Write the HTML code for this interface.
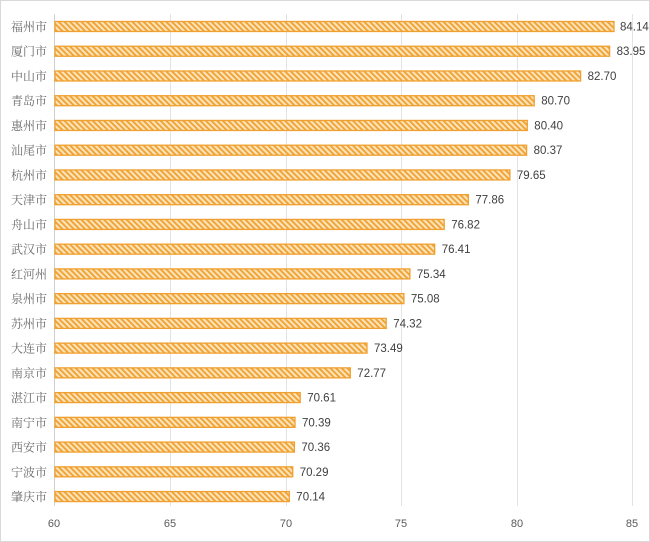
<!DOCTYPE html>
<html><head><meta charset="utf-8"><style>
html,body{margin:0;padding:0;background:#fff;}
svg{display:block;}
text{font-family:"Liberation Sans","Noto Sans CJK SC",sans-serif;}
.c{font-size:12px;fill:#6a6a6a;text-anchor:end;font-family:"Liberation Serif","Noto Serif CJK SC",serif;}
.v{font-size:11.5px;fill:#404040;}
.b{fill:url(#h);stroke:#f0a030;stroke-width:1.3;}
</style></head><body>
<svg width="650" height="542" viewBox="0 0 650 542" xmlns="http://www.w3.org/2000/svg">
<defs>
<pattern id="h" patternUnits="userSpaceOnUse" width="4" height="4" patternTransform="rotate(-45)">
<rect width="4" height="4" fill="#fbe3b8"/>
<rect width="1.8" height="4" fill="#f0a030"/>
</pattern>
</defs>
<rect x="0.5" y="0.5" width="649" height="541" fill="#fff" stroke="#d9d9d9"/>
<g stroke="#e3e3e3" stroke-width="1">
<line x1="170.5" y1="14" x2="170.5" y2="506"/>
<line x1="286.5" y1="14" x2="286.5" y2="506"/>
<line x1="401.5" y1="14" x2="401.5" y2="506"/>
<line x1="517.5" y1="14" x2="517.5" y2="506"/>
<line x1="632.5" y1="14" x2="632.5" y2="506"/>
</g>
<line x1="54.5" y1="14" x2="54.5" y2="506" stroke="#d0d0d0"/>
<g font-size="11" fill="#595959" text-anchor="middle">
<text x="54" y="527">60</text><text x="170" y="527">65</text><text x="286" y="527">70</text><text x="401" y="527">75</text><text x="517" y="527">80</text><text x="632" y="527">85</text>
</g>
<g transform="translate(0,26.5)"><rect class="b" x="55" y="-5" width="559" height="10"/><text class="c" x="47" y="4.5">福州市</text><text class="v" x="620" y="4">84.14</text></g>
<g transform="translate(0,51.24)"><rect class="b" x="55" y="-5" width="554.6" height="10"/><text class="c" x="47" y="4.5">厦门市</text><text class="v" x="616.6" y="4">83.95</text></g>
<g transform="translate(0,75.98)"><rect class="b" x="55" y="-5" width="525.6" height="10"/><text class="c" x="47" y="4.5">中山市</text><text class="v" x="587.6" y="4">82.70</text></g>
<g transform="translate(0,100.72)"><rect class="b" x="55" y="-5" width="479.2" height="10"/><text class="c" x="47" y="4.5">青岛市</text><text class="v" x="541.2" y="4">80.70</text></g>
<g transform="translate(0,125.46)"><rect class="b" x="55" y="-5" width="472.3" height="10"/><text class="c" x="47" y="4.5">惠州市</text><text class="v" x="534.3" y="4">80.40</text></g>
<g transform="translate(0,150.2)"><rect class="b" x="55" y="-5" width="471.6" height="10"/><text class="c" x="47" y="4.5">汕尾市</text><text class="v" x="533.6" y="4">80.37</text></g>
<g transform="translate(0,174.94)"><rect class="b" x="55" y="-5" width="454.9" height="10"/><text class="c" x="47" y="4.5">杭州市</text><text class="v" x="516.9" y="4">79.65</text></g>
<g transform="translate(0,199.68)"><rect class="b" x="55" y="-5" width="413.4" height="10"/><text class="c" x="47" y="4.5">天津市</text><text class="v" x="475.4" y="4">77.86</text></g>
<g transform="translate(0,224.42)"><rect class="b" x="55" y="-5" width="389.2" height="10"/><text class="c" x="47" y="4.5">舟山市</text><text class="v" x="451.2" y="4">76.82</text></g>
<g transform="translate(0,249.16)"><rect class="b" x="55" y="-5" width="379.7" height="10"/><text class="c" x="47" y="4.5">武汉市</text><text class="v" x="441.7" y="4">76.41</text></g>
<g transform="translate(0,273.9)"><rect class="b" x="55" y="-5" width="354.9" height="10"/><text class="c" x="47" y="4.5">红河州</text><text class="v" x="416.9" y="4">75.34</text></g>
<g transform="translate(0,298.64)"><rect class="b" x="55" y="-5" width="348.9" height="10"/><text class="c" x="47" y="4.5">泉州市</text><text class="v" x="410.9" y="4">75.08</text></g>
<g transform="translate(0,323.38)"><rect class="b" x="55" y="-5" width="331.2" height="10"/><text class="c" x="47" y="4.5">苏州市</text><text class="v" x="393.2" y="4">74.32</text></g>
<g transform="translate(0,348.12)"><rect class="b" x="55" y="-5" width="312" height="10"/><text class="c" x="47" y="4.5">大连市</text><text class="v" x="374" y="4">73.49</text></g>
<g transform="translate(0,372.86)"><rect class="b" x="55" y="-5" width="295.3" height="10"/><text class="c" x="47" y="4.5">南京市</text><text class="v" x="357.3" y="4">72.77</text></g>
<g transform="translate(0,397.6)"><rect class="b" x="55" y="-5" width="245.2" height="10"/><text class="c" x="47" y="4.5">湛江市</text><text class="v" x="307.2" y="4">70.61</text></g>
<g transform="translate(0,422.34)"><rect class="b" x="55" y="-5" width="240" height="10"/><text class="c" x="47" y="4.5">南宁市</text><text class="v" x="302" y="4">70.39</text></g>
<g transform="translate(0,447.08)"><rect class="b" x="55" y="-5" width="239.4" height="10"/><text class="c" x="47" y="4.5">西安市</text><text class="v" x="301.4" y="4">70.36</text></g>
<g transform="translate(0,471.82)"><rect class="b" x="55" y="-5" width="237.7" height="10"/><text class="c" x="47" y="4.5">宁波市</text><text class="v" x="299.7" y="4">70.29</text></g>
<g transform="translate(0,496.56)"><rect class="b" x="55" y="-5" width="234.3" height="10"/><text class="c" x="47" y="4.5">肇庆市</text><text class="v" x="296.3" y="4">70.14</text></g>
</svg>
</body></html>
